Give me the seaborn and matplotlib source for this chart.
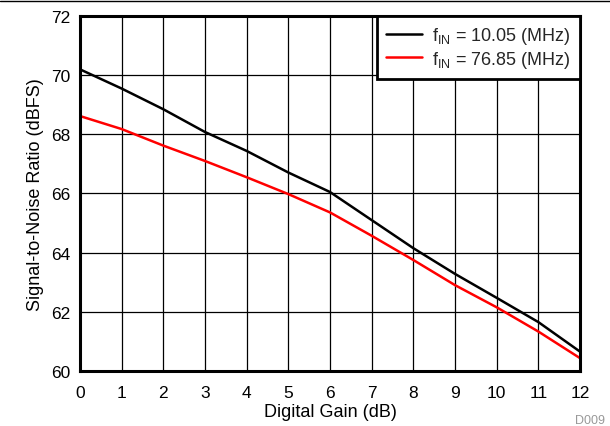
import matplotlib
matplotlib.use("Agg")
import matplotlib.pyplot as plt
import seaborn as sns
import pandas as pd
from matplotlib.lines import Line2D

gain_db = [0, 1, 2, 3, 4, 5, 6, 7, 8, 9, 10, 11, 12]
snr_10_05 = [70.2, 69.55, 68.85, 68.08, 67.44, 66.71, 66.05, 65.1, 64.15, 63.28, 62.47, 61.65, 60.65]
snr_76_85 = [68.62, 68.18, 67.62, 67.1, 66.55, 65.98, 65.36, 64.57, 63.75, 62.9, 62.15, 61.33, 60.43]
series_labels = [r"f$_{\mathrm{IN}}$ = 10.05 (MHz)", r"f$_{\mathrm{IN}}$ = 76.85 (MHz)"]
series_colors = ["#000000", "#FF0000"]
x_ticks = list(range(0, 13))
y_ticks = [60, 62, 64, 66, 68, 70, 72]

sns.set_theme(style="white")
plt.rcParams["font.family"] = ["Liberation Sans", "DejaVu Sans"]
plt.rcParams["mathtext.fontset"] = "custom"
plt.rcParams["mathtext.rm"] = "Liberation Sans"
plt.rcParams["mathtext.it"] = "Liberation Sans:italic"

df = pd.DataFrame({
    "gain": gain_db * 2,
    "snr": snr_10_05 + snr_76_85,
    "series": [series_labels[0]] * len(gain_db) + [series_labels[1]] * len(gain_db),
})

fig = plt.figure(figsize=(6.1, 4.27), dpi=100)
ax = fig.add_axes([0.131, 0.129, 0.82, 0.831])

sns.lineplot(data=df, x="gain", y="snr", hue="series", palette=series_colors,
             hue_order=series_labels, ax=ax, linewidth=1.8, legend=False)

ax.set_xlim(0, 12)
ax.set_ylim(60, 72)
ax.set_xticks(x_ticks)
ax.set_yticks(y_ticks)
ax.tick_params(axis="y", labelsize=12.5, length=0, pad=7, colors="black")
ax.tick_params(axis="x", labelsize=12.5, length=0, pad=10, colors="black")
ax.grid(True, color="black", linewidth=0.9)
ax.set_axisbelow(True)
for s in ax.spines.values():
    s.set_visible(True)
    s.set_color("black")
    s.set_linewidth(2.2)
ax.set_xlabel("Digital Gain (dB)", fontsize=13, color="black", labelpad=2)
ax.set_ylabel("Signal-to-Noise Ratio (dBFS)", fontsize=13, color="black", labelpad=5)

handles = [Line2D([0], [0], color=c, linewidth=1.8) for c in series_colors]
leg = ax.legend(handles, series_labels, loc="upper right", fontsize=13,
                frameon=True, fancybox=False, borderaxespad=0.0,
                handlelength=2.0, labelspacing=0.15, borderpad=0.5, handletextpad=0.55)
leg.get_frame().set_edgecolor("black")
leg.get_frame().set_linewidth(2.0)
leg.get_frame().set_facecolor("white")
leg.get_frame().set_alpha(1)

fig.add_artist(Line2D([0, 1], [0.996, 0.996], transform=fig.transFigure, color="black", linewidth=1.0))
fig.text(0.992, 0.0, "D009", ha="right", va="bottom", fontsize=9, color="#999999")

fig.savefig("out.png", dpi=100)
